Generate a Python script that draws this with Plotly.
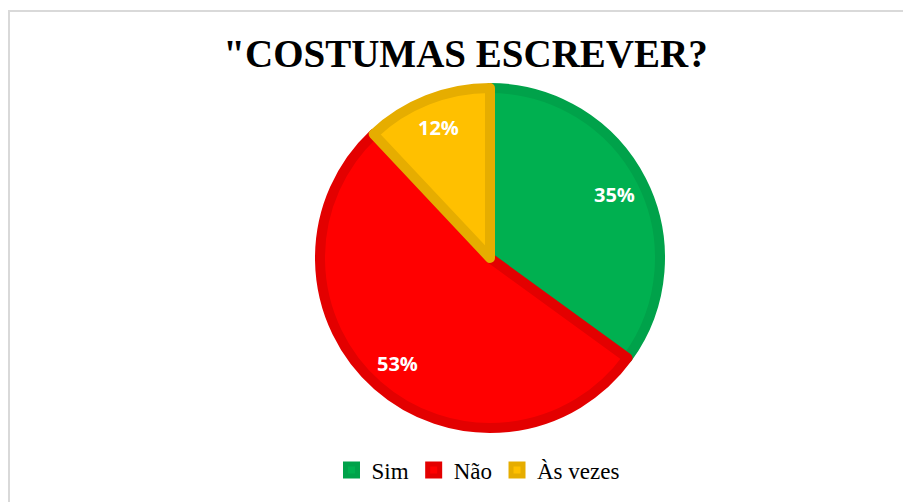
import math

import plotly.graph_objects as go

W, H = 911, 502
# page body adds an 8px offset, so figure coords = screen coords - 8
OFF = 8

labels = ["Sim", "Não", "Às vezes"]
values = [35, 53, 12]
fill_colors = ["#00B050", "#FF0000", "#FFC000"]
edge_colors = ["#00A24A", "#E30000", "#E6AD00"]

# pie geometry (screen px)
CX, CY, R = 490 - OFF, 258 - OFF, 175
EDGE = 10
LABEL_R = 0.8 * R

fig = go.Figure()
fig.add_trace(
    go.Pie(
        labels=labels,
        values=values,
        sort=False,
        direction="clockwise",
        rotation=0,
        marker=dict(colors=fill_colors, line=dict(color=edge_colors, width=EDGE)),
        textinfo="none",
        domain=dict(
            x=[(CX - R + EDGE / 2) / W, (CX + R - EDGE / 2) / W],
            y=[1 - (CY + R - EDGE / 2) / H, 1 - (CY - R + EDGE / 2) / H],
        ),
        hoverinfo="label+percent",
    )
)

# percent labels placed along each slice's mid angle, further out than plotly's default
total = sum(values)
annotations = []
start = 0.0
for v in values:
    mid = math.radians((start + v / 2) / total * 360)
    start += v
    x = CX + LABEL_R * math.sin(mid)
    y = CY - LABEL_R * math.cos(mid)
    annotations.append(
        dict(
            text=f"{round(v / total * 100)}%",
            x=x / W,
            y=1 - y / H,
            xref="paper",
            yref="paper",
            xanchor="center",
            yanchor="middle",
            showarrow=False,
            font=dict(family="Open Sans", size=20, color="white", weight="bold"),
        )
    )

fig.update_layout(
    width=W,
    height=H,
    margin=dict(l=0, r=0, t=0, b=0),
    paper_bgcolor="white",
    plot_bgcolor="white",
    title=dict(
        text='"COSTUMAS ESCREVER?',
        font=dict(family="Liberation Serif", size=39, color="black", weight="bold"),
        x=(465.5 - OFF) / W,
        xanchor="center",
        y=1 - (53 - OFF) / H,
        yanchor="middle",
        yref="container",
    ),
    legend=dict(
        orientation="h",
        x=(478 - OFF) / W,
        xanchor="center",
        y=1 - (470 - OFF) / H,
        yanchor="middle",
        font=dict(family="Liberation Serif", size=23, color="black"),
        itemwidth=30,
    ),
    annotations=annotations,
    shapes=[
        dict(
            type="rect",
            xref="paper",
            yref="paper",
            x0=1 / W,
            x1=1.05,
            y0=-0.05,
            y1=1 - 3 / H,
            line=dict(color="#D9D9D9", width=2),
            fillcolor="rgba(0,0,0,0)",
            layer="below",
        )
    ],
)

fig.write_html("out.html")
